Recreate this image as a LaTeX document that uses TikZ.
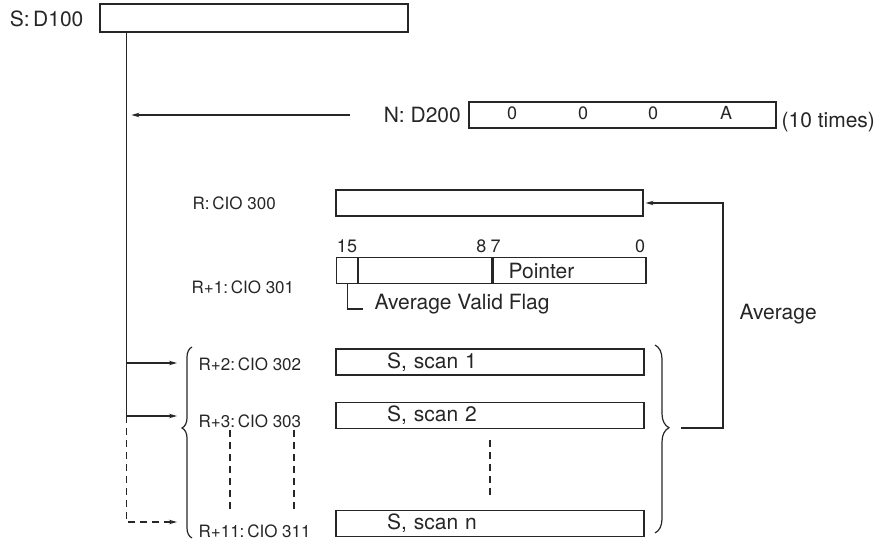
\documentclass[tikz,border=0pt]{standalone}
\usepackage{fontspec}
\setmainfont{TeX Gyre Heros}
\usetikzlibrary{arrows.meta,positioning,calc,decorations.pathreplacing}

\begin{document}
\begin{tikzpicture}[
    x=1pt, y=-1pt,
    line width=1.2pt, color=black!85,
    reg/.style={rectangle, draw, minimum height=26pt, inner sep=0pt},
    big/.style={inner sep=0pt, font=\fontsize{21}{24}\selectfont},
    small/.style={inner sep=0pt, font=\fontsize{17}{20}\selectfont},
    bits/.style={inner sep=0pt, font=\fontsize{18}{20}\selectfont},
    scanbox/.style={reg, text width=206pt, inner xsep=51pt, align=left, font=\fontsize{21}{24}\selectfont},
    arrow/.style={->,>={Stealth[length=8pt,width=4.5pt]}},
    dashline/.style={dash pattern=on 7pt off 5pt},
    brace/.style={decorate, decoration={brace, amplitude=#1}}
]
    \useasboundingbox (0,0) rectangle (889,540);

    % source and count
    \node[reg, minimum width=308pt, minimum height=28pt] (sbox) at (254,18) {};
    \node[big, anchor=east] (slbl) at (84,19) {S:\,D100};
    \node[reg, minimum width=307pt] (nbox) at (622.5,115) {};
    \node[big, left=7pt of nbox] (nlbl) {N: D200};
    \foreach \x/\d [count=\i] in {512/0, 583/0, 653/0, 726/A}
        \node[bits] (ndig\i) at (\x,113) {\d};
    \node[big, anchor=west] (times) at (781,122) {(10 times)};

    % result words
    \node[reg, minimum width=307pt] (r0) at (489.5,203) {};
    \node[small, anchor=west] (r0lbl) at (192,203) {R:\,CIO 300};
    \node[reg, minimum width=21pt, anchor=north west] (flagcell) at (336,257) {};
    \node[reg, minimum width=133pt, anchor=west] (midcell) at (flagcell.east) {};
    \node[reg, minimum width=153pt, anchor=west] (ptrcell) at (midcell.east) {};
    \node[big, anchor=west] (ptr) at (508,271) {Pointer};
    \node[bits] (b15) at (347,246) {15};
    \node[bits, anchor=east] (b8) at (487,246) {8};
    \node[bits, anchor=west] (b7) at (490,246) {7};
    \node[bits] (b0) at (640,246) {0};
    \node[small, anchor=west] (r1lbl) at (191,287) {R+1:\,CIO 301};
    \node[big, anchor=base west] (flag) at (374,309) {Average Valid Flag};
    \draw (flagcell.south) |- ([xshift=-11pt]flag.base west);

    % scan buffer
    \node[scanbox] (s1) at (490,362) {S, scan 1};
    \node[scanbox] (s2) at (490,415.5) {S, scan 2};
    \node[scanbox] (sn) at (490,523.5) {S, scan n};
    \node[small, anchor=west] (r2lbl) at (198,364) {R+2:\,CIO 302};
    \node[small, anchor=west] (r3lbl) at (198,421) {R+3:\,CIO 303};
    \node[small, anchor=west] (r11lbl) at (198,531) {R+11:\,CIO 311};
    \draw[dashline] (230,430) -- (230,510);
    \draw[dashline] (294,430) -- (294,510);
    \draw[dashline] (490,440) -- (490,497);
    \draw[brace=10pt, decoration={aspect=0.576}] (192,538) -- (192,347);
    \draw[brace=14pt, decoration={aspect=0.44}] (655,345) -- (655,533);

    % storing
    \coordinate (trunk) at ([xshift=27pt]sbox.south west);
    \coordinate (in2) at (177,363);
    \coordinate (in3) at (177,416);
    \coordinate (in11) at (177,522);
    \draw (trunk) -- (trunk |- in3);
    \draw[arrow, shorten >=5pt] ([xshift=-33pt]nlbl.west) -- (trunk |- nlbl.west);
    \draw[arrow] (trunk |- in2) -- (in2);
    \draw[arrow] (trunk |- in3) -- (in3);
    \draw[arrow, dashline] (trunk |- in3) |- (in11);

    % averaging
    \coordinate (loopstart) at (681,428);
    \coordinate (loopcorner) at (723,428);
    \draw[arrow, shorten >=2pt] (loopstart) -- (loopcorner) |- (r0.east);
    \node[big, anchor=west] (avg) at (739,314) {Average};
\end{tikzpicture}
\end{document}
